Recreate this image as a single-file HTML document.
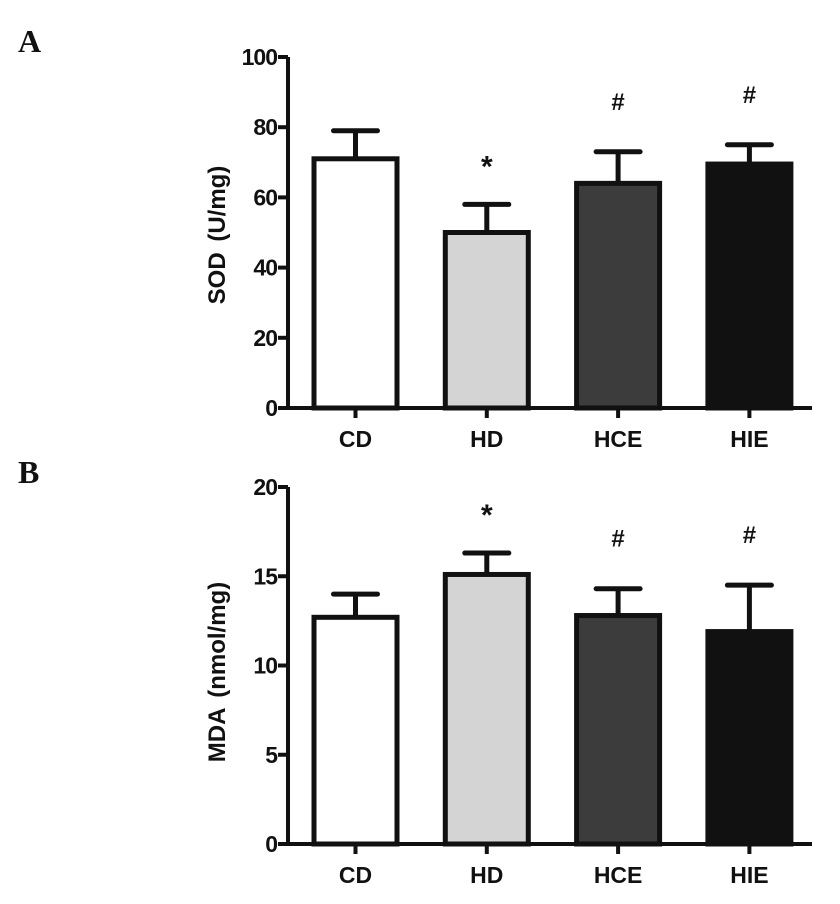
<!DOCTYPE html>
<html><head><meta charset="utf-8"><style>
html,body{margin:0;padding:0;background:#fff;}
svg{display:block;}
text{font-family:"Liberation Sans",Arial,sans-serif;font-weight:bold;fill:#111;}
</style></head><body>
<svg id="chart" width="840" height="904" viewBox="0 0 840 904" xmlns="http://www.w3.org/2000/svg"></svg>
<script>
const categories = ["CD","HD","HCE","HIE"];
const fills = ["#ffffff","#d4d4d4","#3c3c3c","#111111"];
const sodValues = [71, 50, 64, 69.5];
const sodErrors = [8, 8, 9, 5.5];
const sodMarks = ["", "*", "#", "#"];
const sodTicks = [0,20,40,60,80,100];
const mdaValues = [12.7, 15.1, 12.8, 11.9];
const mdaErrors = [1.3, 1.2, 1.5, 2.6];
const mdaMarks = ["", "*", "#", "#"];
const mdaTicks = [0,5,10,15,20];

const svg = document.getElementById('chart');
const NS = "http://www.w3.org/2000/svg";
function mk(tag, attrs, parent){
  const e = document.createElementNS(NS, tag);
  for (const k in attrs) e.setAttribute(k, attrs[k]);
  (parent||svg).appendChild(e);
  return e;
}
function panel(cfg){
  const g = mk('g', {});
  
  
  const x0 = 288, x1 = 812, yTop = cfg.yTop, yBot = cfg.yBot, max = cfg.ticks[cfg.ticks.length-1];
  const y = v => yBot - (v / max) * (yBot - yTop);
  const step = 131.3, first = 355.5;
  const xc = i => first + i * step;
  const bw = 83;
  cfg.values.forEach((v, i) => {
    const top = y(v + cfg.errors[i]);
    const el = mk('line', {x1:xc(i), x2:xc(i), y1:y(v), y2:top, stroke:'#111','stroke-width':5}, g);
    
    
    const cap = mk('line', {x1:xc(i)-22, x2:xc(i)+22, y1:top, y2:top, stroke:'#111','stroke-width':5,'stroke-linecap':'round'}, g);
    
    
    const r = mk('rect', {x:xc(i)-bw/2, y:y(v), width:bw, height:yBot-y(v), fill:fills[i], stroke:'#111','stroke-width':5}, g);
    
    
    if (cfg.marks[i]) {
      const star = cfg.marks[i]==='*';
      const t = mk('text', {x:xc(i), y:top - (star?28:42), 'text-anchor':'middle','font-size':star?30:24,'font-weight':'normal'}, g);
      t.textContent = cfg.marks[i];
      
      
    }
    const tk = mk('line', {x1:xc(i), x2:xc(i), y1:yBot, y2:yBot+10, stroke:'#111','stroke-width':4}, g);
    
    
    const lb = mk('text', {x:xc(i), y:yBot+39, 'text-anchor':'middle','font-size':23}, g);
    lb.textContent = categories[i];
    
    
  });
  const ya = mk('line', {x1:x0, x2:x0, y1:yTop, y2:yBot+2, stroke:'#111','stroke-width':4}, g);
  
  
  const xa = mk('line', {x1:x0-2, x2:x1, y1:yBot, y2:yBot, stroke:'#111','stroke-width':4}, g);
  
  
  cfg.ticks.forEach(t => {
    const tl = mk('line', {x1:x0-10, x2:x0, y1:y(t), y2:y(t), stroke:'#111','stroke-width':4}, g);
    
    
    const tx = mk('text', {x:x0-11, y:y(t)+8, 'text-anchor':'end','font-size':23, 'letter-spacing':'-1'}, g);
    tx.textContent = t;
    
    
  });
  const cy = cfg.titleY;
  const title = mk('text', {x:0, y:0, transform:'translate(225,'+cy+') rotate(-90)', 'text-anchor':'middle','font-size':24, 'word-spacing':'4'}, g);
  title.textContent = cfg.title;
  
  
  const pl = mk('text', {x:18, y:cfg.labelY, 'font-size':32, style:'font-family:"Liberation Serif",serif;'}, g);
  pl.textContent = cfg.label;
  
  
}
panel({name:'panel-a-sod', yTop:57, yBot:408, ticks:sodTicks, values:sodValues, errors:sodErrors, marks:sodMarks, title:'SOD (U/mg)', label:'A', labelY:52, titleY:235});
panel({name:'panel-b-mda', yTop:487, yBot:844, ticks:mdaTicks, values:mdaValues, errors:mdaErrors, marks:mdaMarks, title:'MDA (nmol/mg)', label:'B', labelY:483, titleY:672});
</script>
</body></html>
